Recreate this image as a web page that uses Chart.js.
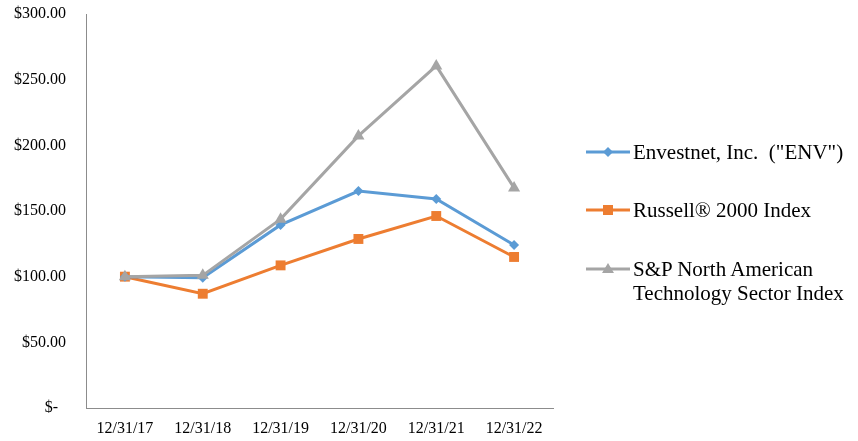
<!DOCTYPE html>
<html>
<head>
<meta charset="utf-8">
<script src="https://cdn.jsdelivr.net/npm/chart.js@4"></script>
<style>
  html, body { margin: 0; padding: 0; background: #fff; }
  #wrap { position: relative; width: 858px; height: 441px; overflow: hidden; }
  #c { position: absolute; left: 0; top: 0; }
  .lg { position: absolute; left: 586px; font-family: "Liberation Serif", "Times New Roman", serif; font-size: 21px; line-height: 24px; color: #000; display: flex; align-items: flex-start; white-space: pre; }
  .lg svg { flex: none; margin-right: 3px; }
</style>
</head>
<body>
<div id="wrap">
  <canvas id="c" width="858" height="441"></canvas>
  <div class="lg" style="top:140px">
    <svg width="44" height="24"><line x1="0" y1="12" x2="44" y2="12" stroke="#5B9BD5" stroke-width="3"/><polygon points="22,7 27,12 22,17 17,12" fill="#5B9BD5"/></svg>
    <span id="lg0"></span>
  </div>
  <div class="lg" style="top:198px">
    <svg width="44" height="24"><line x1="0" y1="12" x2="44" y2="12" stroke="#ED7D31" stroke-width="3"/><rect x="17" y="7" width="10" height="10" fill="#ED7D31"/></svg>
    <span id="lg1"></span>
  </div>
  <div class="lg" style="top:257px">
    <svg width="44" height="24"><line x1="0" y1="12" x2="44" y2="12" stroke="#A5A5A5" stroke-width="3"/><polygon points="22,6 28,16 16,16" fill="#A5A5A5"/></svg>
    <span id="lg2"></span>
  </div>
</div>
<script>
const categories = ['12/31/17', '12/31/18', '12/31/19', '12/31/20', '12/31/21', '12/31/22'];
const envestnet = [100, 99.2, 139.4, 165.2, 159.2, 124.1];
const russell = [100, 87.0, 108.6, 128.7, 146.2, 115.0];
const spTech = [100, 101.0, 143.8, 207.2, 260.5, 167.6];
const seriesNames = ['Envestnet, Inc.  ("ENV")', 'Russell\u00AE 2000 Index', 'S&P North American\nTechnology Sector Index'];
const yTickValues = [0, 50, 100, 150, 200, 250, 300];
const yTickLabels = ['$-\u2002', '$50.00', '$100.00', '$150.00', '$200.00', '$250.00', '$300.00'];

document.getElementById('lg0').textContent = seriesNames[0];
document.getElementById('lg1').textContent = seriesNames[1];
document.getElementById('lg2').textContent = seriesNames[2];

const axisColor = '#8C8C8C';
const tickFont = { family: 'Liberation Serif', size: 16 };

new Chart(document.getElementById('c'), {
  type: 'line',
  data: {
    labels: categories,
    datasets: [
      { label: seriesNames[0], data: envestnet, borderColor: '#5B9BD5', backgroundColor: '#5B9BD5', borderWidth: 3, pointStyle: 'rectRot', pointRadius: 5, pointBorderWidth: 0, tension: 0, order: 1 },
      { label: seriesNames[1], data: russell, borderColor: '#ED7D31', backgroundColor: '#ED7D31', borderWidth: 3, pointStyle: 'rect', pointRadius: 7, pointBorderWidth: 0, tension: 0, order: 2 },
      { label: seriesNames[2], data: spTech, borderColor: '#A5A5A5', backgroundColor: '#A5A5A5', borderWidth: 3, pointStyle: 'triangle', pointRadius: 7, pointBorderWidth: 0, tension: 0, order: 0 }
    ]
  },
  options: {
    responsive: false,
    animation: false,
    events: [],
    layout: { padding: { left: 0, right: 305, top: 0, bottom: 0 } },
    plugins: { legend: { display: false }, tooltip: { enabled: false } },
    scales: {
      x: {
        offset: true,
        grid: { display: false, drawTicks: false },
        border: { display: true, color: axisColor, width: 1 },
        ticks: { color: '#000', font: tickFont, padding: 11, maxRotation: 0 },
        afterFit: s => { s.height = 33; }
      },
      y: {
        min: 0, max: 300,
        grid: { display: false, drawTicks: false },
        border: { display: true, color: axisColor, width: 1 },
        afterBuildTicks: s => { s.ticks = yTickValues.map(v => ({ value: v })); },
        ticks: { color: '#000', font: tickFont, padding: 20, callback: (v) => yTickLabels[yTickValues.indexOf(v)] },
        afterFit: s => { s.width = 86; s.paddingTop = 14; s.paddingBottom = 0; }
      }
    }
  }
});
</script>
</body>
</html>
